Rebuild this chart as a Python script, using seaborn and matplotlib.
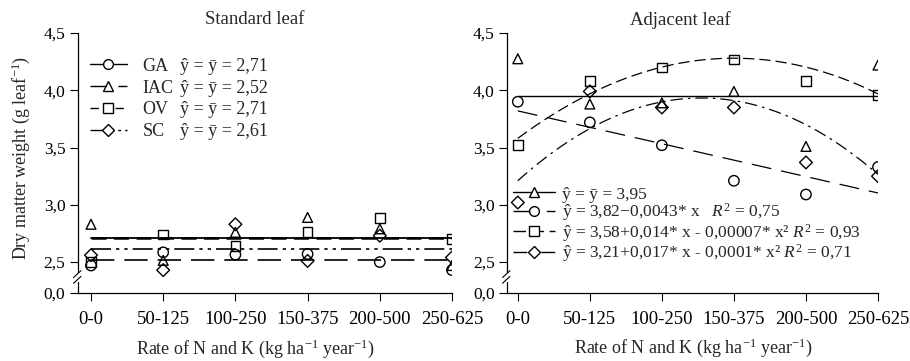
import matplotlib

matplotlib.use("Agg")

import matplotlib.pyplot as plt
from matplotlib.lines import Line2D
import numpy as np
import pandas as pd
import seaborn as sns

# ---------------------------------------------------------------------------
# Data
# ---------------------------------------------------------------------------
RATES = ["0-0", "50-125", "100-250", "150-375", "200-500", "250-625"]
CULTIVARS = ["GA", "IAC", "OV", "SC"]

# standard leaf, observed means per rate
std_ga = [2.47, 2.585, 2.565, 2.57, 2.50, 2.43]
std_iac = [2.83, 2.515, 2.76, 2.89, 2.79, 2.47]
std_ov = [2.50, 2.74, 2.64, 2.76, 2.885, 2.70]
std_sc = [2.56, 2.43, 2.83, 2.51, 2.73, 2.54]
std_means = [2.71, 2.52, 2.71, 2.61]  # GA, IAC, OV, SC
std_labels = ["ŷ = ȳ = 2,71", "ŷ = ȳ = 2,52", "ŷ = ȳ = 2,71", "ŷ = ȳ = 2,61"]

# adjacent leaf, observed means per rate
adj_ga = [3.90, 3.72, 3.52, 3.21, 3.09, 3.33]
adj_iac = [4.275, 3.88, 3.89, 3.99, 3.51, 4.22]
adj_ov = [3.52, 4.08, 4.20, 4.27, 4.08, 3.96]
adj_sc = [3.02, 3.99, 3.85, 3.85, 3.37, 3.25]

# fitted models (polynomial coefficients, highest power first)
adj_iac_mean = 3.95
adj_ga_fit = [-0.0043, 3.82]
adj_ov_fit = [-0.00007, 0.014, 3.58]
adj_sc_fit = [-0.0001, 0.017, 3.21]
# regression x for each rate level
model_x = [0, 33.3, 66.7, 100, 133.3, 166.7]

adj_labels = [
    "ŷ = ȳ = 3,95",
    "ŷ = 3,82−0,0043* x   $R^2$ = 0,75",
    "ŷ = 3,58+0,014* x - 0,00007* x² $R^2$ = 0,93",
    "ŷ = 3,21+0,017* x - 0,0001* x² $R^2$ = 0,71",
]

Y_TICKS = [2.23, 2.5, 3.0, 3.5, 4.0, 4.5]
Y_TICKLABELS = ["0,0", "2,5", "3,0", "3,5", "4,0", "4,5"]

MARKERS = {"GA": "o", "IAC": "^", "OV": "s", "SC": "D"}
MSIZE = {"GA": 56, "IAC": 50, "OV": 48, "SC": 42}

# ---------------------------------------------------------------------------
sns.set_theme(style="ticks")
plt.rcParams["font.family"] = ["Liberation Serif", "DejaVu Serif"]
plt.rcParams["mathtext.fontset"] = "custom"
plt.rcParams["mathtext.rm"] = "Liberation Serif"
plt.rcParams["mathtext.it"] = "Liberation Serif:italic"
plt.rcParams["axes.edgecolor"] = "black"
plt.rcParams["axes.linewidth"] = 0.9

W, H = 910, 361
fig = plt.figure(figsize=(W / 100, H / 100), dpi=100)


def px_axes(x0, x1, y0, y1):
    return fig.add_axes([x0 / W, 1 - y1 / H, (x1 - x0) / W, (y1 - y0) / H])


ax_l = px_axes(78, 452, 33, 293)
ax_r = px_axes(507, 878, 33, 293)


def style_axes(ax, xmin):
    ax.set_xlim(xmin, 5)
    ax.set_ylim(Y_TICKS[0], 4.5)
    ax.set_xticks(range(len(RATES)))
    ax.set_xticklabels(RATES, fontsize=13.5)
    ax.set_yticks(Y_TICKS)
    ax.set_yticklabels(Y_TICKLABELS, fontsize=12.5)
    ax.tick_params(direction="out", length=6, width=0.8, colors="black", pad=3)
    ax.tick_params(axis="x", pad=7)
    sns.despine(ax=ax)
    ax.set_xlabel("")
    ax.set_ylabel("")
    # axis break marks on the y spine
    tr = ax.get_yaxis_transform()
    ax.plot([0, 0], [2.345, 2.395], transform=tr, color="white", lw=2.5,
            clip_on=False, zorder=5)
    for yb in (2.345, 2.395):
        ax.plot([-0.012, 0.008], [yb - 0.03, yb + 0.03], transform=tr,
                color="black", lw=0.8, clip_on=False, zorder=6)


def scatter_series(ax, values, name):
    df = pd.DataFrame({"pos": range(len(RATES)), "value": values})
    sns.scatterplot(data=df, x="pos", y="value", ax=ax, marker=MARKERS[name],
                    s=MSIZE[name], facecolors="none", edgecolor="black",
                    linewidth=1.0, zorder=4, legend=False)


# ---------------- Standard leaf ----------------
std_styles = {
    "GA": "-",
    "IAC": (0, (14, 6)),
    "OV": (0, (6, 3)),
    "SC": (0, (12, 3, 2, 3, 2, 3)),
}
std_lw = {"GA": 1.3, "IAC": 1.2, "OV": 1.8, "SC": 1.2}
for name, mean in zip(CULTIVARS, std_means):
    sns.lineplot(x=[0, 5], y=[mean, mean], ax=ax_l, color="black",
                 lw=std_lw[name], linestyle=std_styles[name])
for name, vals in zip(CULTIVARS, [std_ga, std_iac, std_ov, std_sc]):
    scatter_series(ax_l, vals, name)
style_axes(ax_l, -0.18)

# ---------------- Adjacent leaf ----------------
t = np.linspace(0, 5, 200)
xm = np.interp(t, range(len(RATES)), model_x)
adj_styles = {
    "IAC": "-",
    "GA": (0, (16, 8)),
    "OV": (0, (9, 4)),
    "SC": (0, (10, 4, 2, 4)),
}
sns.lineplot(x=[0, 5], y=[adj_iac_mean, adj_iac_mean], ax=ax_r, color="black",
             lw=1.0, linestyle=adj_styles["IAC"])
for name, coefs in (("GA", adj_ga_fit), ("OV", adj_ov_fit), ("SC", adj_sc_fit)):
    sns.lineplot(x=t, y=np.polyval(coefs, xm), ax=ax_r, color="black", lw=0.9,
                 linestyle=adj_styles[name])
for name, vals in zip(CULTIVARS, [adj_ga, adj_iac, adj_ov, adj_sc]):
    scatter_series(ax_r, vals, name)
style_axes(ax_r, -0.15)


def handle(name, ls):
    return Line2D([], [], color="black", lw=1.0, linestyle=ls,
                  marker=MARKERS[name], markersize=7 if name != "SC" else 6.3,
                  markerfacecolor="white", markeredgecolor="black",
                  markeredgewidth=1.0)


# left legends: handles + names, then the equations in a second column
h_left = [handle(n, std_styles[n]) for n in CULTIVARS]
leg1 = ax_l.legend(h_left, CULTIVARS, loc="upper left",
                   bbox_to_anchor=(0.032, 0.905), frameon=False, fontsize=13,
                   handlelength=2.05, handletextpad=0.85, labelspacing=0.27,
                   borderpad=0, borderaxespad=0)
ax_l.add_artist(leg1)
ax_l.legend([Line2D([], [], lw=0)] * 4, std_labels, loc="upper left",
            bbox_to_anchor=(0.272, 0.905), frameon=False, fontsize=13,
            handlelength=0, handletextpad=0, labelspacing=0.27,
            borderpad=0, borderaxespad=0)

# right legend
adj_order = ["IAC", "GA", "OV", "SC"]
h_right = [handle(n, adj_styles[n]) for n in adj_order]
ax_r.legend(h_right, adj_labels, loc="upper left", bbox_to_anchor=(0.016, 0.41),
            frameon=False, fontsize=12.5, handlelength=2.4, handletextpad=0.4,
            labelspacing=-0.08, borderpad=0, borderaxespad=0)

# titles and axis labels
fig.text(255 / W, 1 - 20 / H, "Standard leaf", ha="center", va="center",
         fontsize=13.5)
fig.text(680 / W, 1 - 20 / H, "Adjacent leaf", ha="center", va="center",
         fontsize=13.5)
xlab = "Rate of N and K (kg ha$^{-1}$ year$^{-1}$)"
fig.text(255 / W, 1 - 349 / H, xlab, ha="center", va="center", fontsize=13)
fig.text(693 / W, 1 - 348 / H, xlab, ha="center", va="center", fontsize=13)
fig.text(21 / W, 1 - 158 / H, "Dry matter weight (g leaf$^{-1}$)",
         ha="center", va="center", rotation=90, fontsize=13)

fig.savefig("out.png", dpi=100, facecolor="white")
plt.close("all")
